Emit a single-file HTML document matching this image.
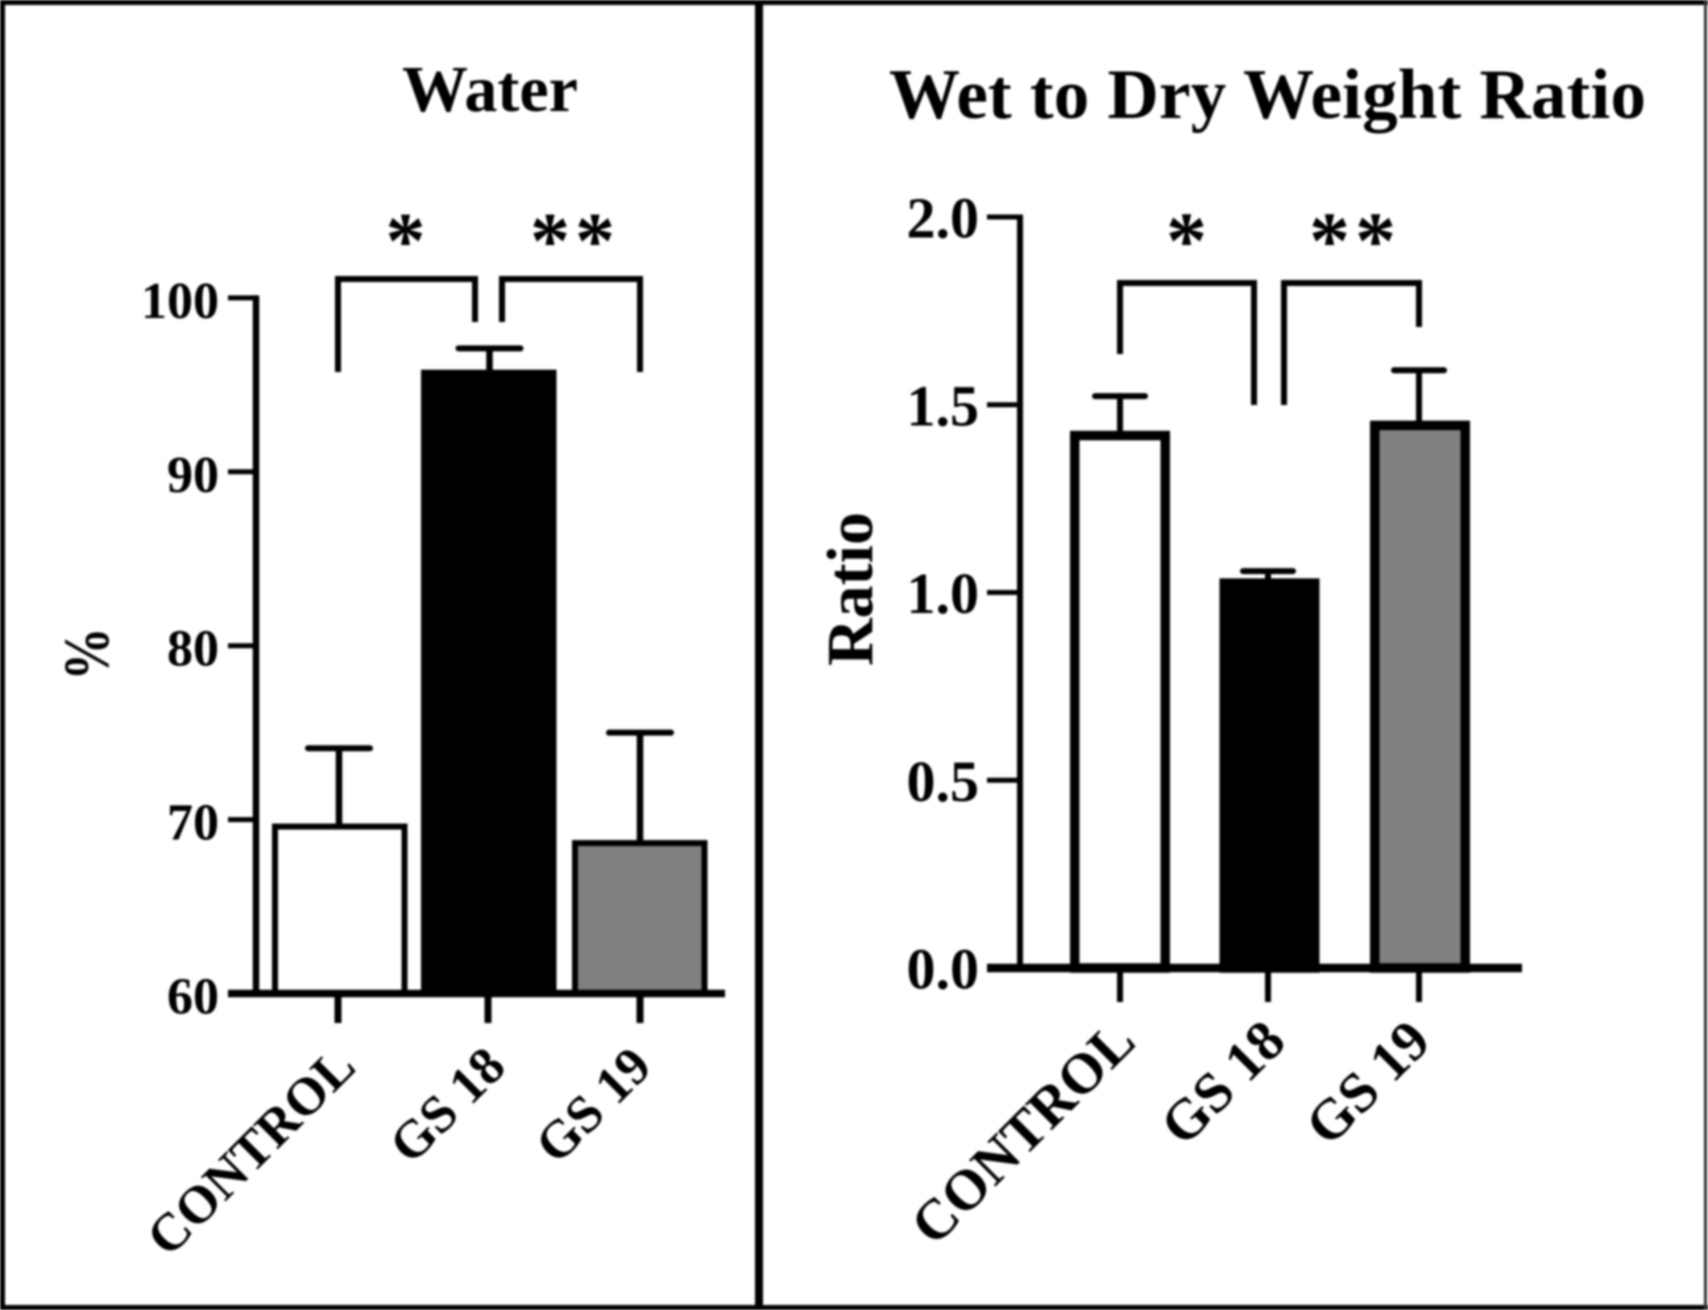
<!DOCTYPE html>
<html lang="en">
<head>
<meta charset="utf-8">
<title>Water and Wet to Dry Weight Ratio</title>
<style>
  html, body { margin: 0; padding: 0; background: #fff; }
  body { width: 1708px; height: 1310px; overflow: hidden; }
  #figure { display: block; filter: blur(1px); }
  text { font-family: "Liberation Serif", serif; font-weight: bold; fill: #000; }
</style>
</head>
<body>
<svg id="figure" xmlns="http://www.w3.org/2000/svg" width="1708" height="1310" viewBox="0 0 1708 1310">
  <rect x="0" y="0" width="1708" height="1310" fill="#fff"/>
  <g id="frame">
    <rect x="0" y="0" width="1708" height="5" fill="#000"/>
    <rect x="0" y="1305" width="1708" height="5" fill="#000"/>
    <rect x="0" y="0" width="5" height="1310" fill="#000"/>
    <rect x="755" y="0" width="8" height="1310" fill="#000"/>
    <rect x="1704" y="0" width="3" height="1310" fill="#333"/>
  </g>
  <g id="water-chart">
    <text x="490" y="111" font-size="66" text-anchor="middle">Water</text>
    <text transform="translate(108,654) rotate(-90) scale(0.95,1.15)" font-size="56" text-anchor="middle">%</text>
  </g>
  <g id="ratio-chart">
    <text x="889" y="118" font-size="71" textLength="757" lengthAdjust="spacing">Wet to Dry Weight Ratio</text>
    <text transform="translate(872,589) rotate(-90)" font-size="66" text-anchor="middle">Ratio</text>
  </g>
</svg>
<script>
const categories = ['CONTROL', 'GS 18', 'GS 19'];
const barFills = ['#ffffff', '#000000', '#808080'];

const waterValues = [69.6, 95.7, 68.65];
const waterErrors = [4.5, 1.4, 6.35];
const waterTicks = [60, 70, 80, 90, 100];
const waterTickLabels = ['60', '70', '80', '90', '100'];
const waterStars = ['*', '**'];

const ratioValues = [1.418, 1.025, 1.445];
const ratioErrors = [0.105, 0.032, 0.147];
const ratioTicks = [0, 0.5, 1, 1.5, 2];
const ratioTickLabels = ['0.0', '0.5', '1.0', '1.5', '2.0'];
const ratioStars = ['*', '**'];

const NS = 'http://www.w3.org/2000/svg';

function make(tag, attrs, parent) {
  const node = document.createElementNS(NS, tag);
  for (const key in attrs) node.setAttribute(key, attrs[key]);
  parent.appendChild(node);
  return node;
}

function slug(text) {
  return text.toLowerCase().replace(/[^a-z0-9]+/g, '-');
}

function drawChart(parent, prefix, data, layout) {
  const yScale = v => layout.y0 - (v - layout.vMin) * layout.unit;

  data.ticks.forEach((tick, i) => {
    const y = yScale(tick);
    const tickLine = make('line', { x1: layout.tickX, x2: layout.axisX, y1: y, y2: y, stroke: '#000', 'stroke-width': 5 }, parent);
    
    
    const label = make('text', { x: layout.tickLabelX, y: y + layout.tickLabelDy, 'font-size': layout.tickFont, 'text-anchor': 'end' }, parent);
    label.textContent = data.tickLabels[i];
    
    
  });

  const yAxis = make('line', { x1: layout.axisX, x2: layout.axisX, y1: yScale(data.ticks[data.ticks.length - 1]) - 2.5, y2: layout.y0, stroke: '#000', 'stroke-width': layout.axisWidth }, parent);
  
  

  data.categories.forEach((cat, i) => {
    const cx = layout.centers[i];
    const value = data.values[i];
    const top = yScale(value);
    const errTop = yScale(value + data.errors[i]);

    const stem = make('line', { x1: cx, x2: cx, y1: errTop, y2: top, stroke: '#000', 'stroke-width': layout.errWidth }, parent);
    
    

    const cap = make('line', { x1: cx - layout.capHalf, x2: cx + layout.capHalf, y1: errTop, y2: errTop, stroke: '#000', 'stroke-width': layout.capWidth, 'stroke-linecap': 'round' }, parent);
    
    

    const sw = layout.barStroke;
    const bar = make('rect', { x: layout.barLefts[i] + sw / 2, y: top, width: layout.barWidth - sw, height: layout.y0 - top, fill: data.fills[i], stroke: '#000', 'stroke-width': sw }, parent);
    
    

    const xTick = make('line', { x1: layout.tickCenters[i], x2: layout.tickCenters[i], y1: layout.y0, y2: layout.xTickEnd, stroke: '#000', 'stroke-width': layout.xTickWidth }, parent);
    
    

    const ex = layout.tickCenters[i] + layout.labelDx[i];
    const label = make('text', { transform: 'translate(' + ex + ',' + layout.labelY + ') rotate(' + layout.labelAngle + ')', 'font-size': layout.labelFont, 'text-anchor': 'end' }, parent);
    label.textContent = cat;
    
    
  });

  const xAxis = make('line', { x1: layout.tickX, x2: layout.axisEnd, y1: layout.y0, y2: layout.y0, stroke: '#000', 'stroke-width': layout.xAxisWidth }, parent);
  
  

  layout.brackets.forEach((b, i) => {
    const path = make('path', { d: 'M' + b.x1 + ' ' + b.y1 + ' V' + layout.bracketTop + ' H' + b.x2 + ' V' + b.y2, fill: 'none', stroke: '#000', 'stroke-width': layout.bracketWidth }, parent);
    
    
    const star = make('text', { x: b.starX, y: layout.starY, 'font-size': layout.starFont, 'text-anchor': 'middle', 'letter-spacing': layout.starSpacing }, parent);
    star.textContent = data.stars[i];
    
    
  });
}

drawChart(document.getElementById('water-chart'), 'water', {
  categories: categories,
  values: waterValues,
  errors: waterErrors,
  ticks: waterTicks,
  tickLabels: waterTickLabels,
  fills: barFills,
  stars: waterStars
}, {
  vMin: 60, y0: 993.5, unit: 17.39,
  axisX: 256, tickX: 228, axisEnd: 725, axisWidth: 6.5, xAxisWidth: 7.5,
  tickLabelX: 219, tickLabelDy: 20, tickFont: 52,
  centers: [339, 489.5, 640], tickCenters: [338, 488, 640],
  barLefts: [272, 421, 572], barWidth: 135.5, barStroke: 6,
  errWidth: 6.5, capHalf: 31, capWidth: 6,
  xTickEnd: 1023, xTickWidth: 7,
  labelDx: [20, 20, 14], labelY: 1069, labelAngle: -45, labelFont: 53,
  bracketTop: 279, bracketWidth: 6, starY: 268, starFont: 80, starSpacing: 5,
  brackets: [
    { x1: 338, y1: 372, x2: 475, y2: 322, starX: 408 },
    { x1: 502, y1: 322, x2: 640, y2: 372, starX: 575 }
  ]
});

drawChart(document.getElementById('ratio-chart'), 'ratio', {
  categories: categories,
  values: ratioValues,
  errors: ratioErrors,
  ticks: ratioTicks,
  tickLabels: ratioTickLabels,
  fills: barFills,
  stars: ratioStars
}, {
  vMin: 0, y0: 968, unit: 375.5,
  axisX: 1020, tickX: 987, axisEnd: 1522, axisWidth: 6, xAxisWidth: 8.5,
  tickLabelX: 979, tickLabelDy: 20.5, tickFont: 58,
  centers: [1120, 1268, 1419], tickCenters: [1120, 1268, 1419],
  barLefts: [1070, 1219.5, 1370], barWidth: 100, barStroke: 9.5,
  errWidth: 6, capHalf: 25, capWidth: 6,
  xTickEnd: 1002, xTickWidth: 6,
  labelDx: [18, 20, 14], labelY: 1044, labelAngle: -45, labelFont: 57,
  bracketTop: 283, bracketWidth: 6, starY: 268, starFont: 82, starSpacing: 5,
  brackets: [
    { x1: 1120, y1: 354, x2: 1254, y2: 405, starX: 1189 },
    { x1: 1284, y1: 405, x2: 1419, y2: 327, starX: 1355 }
  ]
});
</script>
</body>
</html>
